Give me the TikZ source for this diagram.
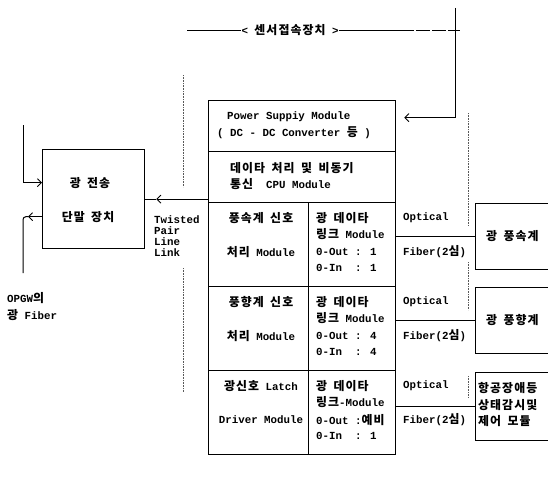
\documentclass[tikz,border=0pt]{standalone}
\usepackage{fontspec}
\setmainfont{Liberation Mono}
\newfontfamily\krfont{Noto Sans CJK KR}[LetterSpace=9]
\newcommand\K[1]{{\krfont\fontsize{11.9}{12}\selectfont #1}}
\usetikzlibrary{arrows.meta}
\begin{document}
\begin{tikzpicture}[x=1pt,y=-1pt,
  font=\fontsize{10.8}{12}\selectfont\bfseries,
  cell/.style={draw, line width=1.3pt, inner sep=0pt, anchor=north west},
  txt/.style={anchor=west, inner sep=0pt},
  ctxt/.style={anchor=center, inner sep=0pt},
  link/.style={line width=1pt},
  thinlink/.style={line width=0.8pt},
  guide/.style={densely dotted, line width=0.6pt, black!65},
  tip/.style={-{Straight Barb[length=4pt,width=8pt,line width=0.9pt]}}]
\useasboundingbox (0,0) rectangle (548,487);
\clip (0,0) rectangle (548,487);

% ---- module stack ----
\node[cell, minimum width=187pt, minimum height=51pt] (power) at (208,100) {};
\node[cell, minimum width=187pt, minimum height=51pt] (cpu)   at (208,151) {};
\node[cell, minimum width=100pt, minimum height=84pt] (r1l) at (208,202) {};
\node[cell, minimum width=87pt,  minimum height=84pt] (r1r) at (308,202) {};
\node[cell, minimum width=100pt, minimum height=84pt] (r2l) at (208,286) {};
\node[cell, minimum width=87pt,  minimum height=84pt] (r2r) at (308,286) {};
\node[cell, minimum width=100pt, minimum height=84pt] (r3l) at (208,370) {};
\node[cell, minimum width=87pt,  minimum height=84pt] (r3r) at (308,370) {};

% ---- right boxes ----
\node[cell, minimum width=100pt, minimum height=66pt] (f1) at (475,203) {};
\node[cell, minimum width=100pt, minimum height=66pt] (f2) at (475,287) {};
\node[cell, minimum width=100pt, minimum height=68pt] (f3) at (475,372) {};

% ---- terminal box ----
\node[cell, minimum width=102pt, minimum height=99pt] (term) at (42,149) {};

% ---- texts in module stack ----
\node[txt] (t1) at (227,117) {Power Suppiy Module};
\node[txt] (t2) at (217,133) {( DC - DC Converter \K{등} )};
\node[txt] (t3) at (230,168) {\K{데이타} \K{처리} \K{및} \K{비동기}};
\node[txt] (t4) at (230,184) {\K{통신}~~CPU Module};

\node[ctxt] (a1) at (261,218) {\K{풍속계} \K{신호}};
\node[ctxt] (a2) at (261,252) {\K{처리} Module};
\node[ctxt] (b1) at (261,302) {\K{풍향계} \K{신호}};
\node[ctxt] (b2) at (261,336) {\K{처리} Module};
\node[ctxt] (c1) at (261,386) {\K{광신호} Latch};
\node[ctxt] (c2) at (261,420) {Driver Module};

\node[txt] (a3) at (316,218) {\K{광} \K{데이타}};
\node[txt] (a4) at (316,234) {\K{링크} Module};
\node[txt] (a5) at (316,252) {0-Out : 1};
\node[txt] (a6) at (316,268) {0-In~~: 1};
\node[txt] (b3) at (316,302) {\K{광} \K{데이타}};
\node[txt] (b4) at (316,318) {\K{링크} Module};
\node[txt] (b5) at (316,336) {0-Out : 4};
\node[txt] (b6) at (316,352) {0-In~~: 4};
\node[txt] (c3) at (316,386) {\K{광} \K{데이타}};
\node[txt] (c4) at (316,402) {\K{링크}-Module};
\node[txt] (c5) at (316,420) {0-Out :\K{예비}};
\node[txt] (c6) at (316,436) {0-In~~: 1};

% ---- fiber labels ----
\node[txt] (o1) at (403,218) {Optical};
\node[txt] (g1) at (403,252) {Fiber(2\K{심})};
\node[txt] (o2) at (403,302) {Optical};
\node[txt] (g2) at (403,336) {Fiber(2\K{심})};
\node[txt] (o3) at (403,386) {Optical};
\node[txt] (g3) at (403,420) {Fiber(2\K{심})};

% ---- right box texts ----
\node[txt] (h1) at (486,236) {\K{광} \K{풍속계}};
\node[txt] (h2) at (486,320) {\K{광} \K{풍향계}};
\node[txt] (h3) at (478,388) {\K{항공장애등}};
\node[txt] (h4) at (478,405) {\K{상태감시및}};
\node[txt] (h5) at (478,421) {\K{제어} \K{모듈}};

% ---- terminal texts ----
\node[ctxt] (k1) at (90,183) {\K{광}~\K{전송}};
\node[ctxt] (k2) at (88,217) {\K{단말} \K{장치}};

\node[txt] (w1) at (154,220) {Twisted};
\node[txt] (w2) at (154,231) {Pair};
\node[txt] (w3) at (154,242) {Line};
\node[txt] (w4) at (154,253) {Link};

\node[txt] (op1) at (7,298) {OPGW\K{의}};
\node[txt] (op2) at (7,315) {\K{광} Fiber};

% ---- title ----
\node[ctxt] (title) at (290,30) {< \K{센서접속장치} >};
\coordinate (tl) at (187,30);
\coordinate (tr) at (460,30);
\coordinate (ptop) at (455,8);
\draw[thinlink] (tl) -- (title.west);
\draw[thinlink] (title.east) -- (400,30);
\draw[thinlink, dash pattern=on 14pt off 2pt] (400,30) -- (tr);
\draw[thinlink, tip] (ptop) |- ([xshift=8pt,yshift=8.5pt]power.east);

% ---- fiber connectors ----
\draw[link] (r1r.east |- f1.west) -- (f1.west);
\draw[link] (r2r.east |- f2.west) -- (f2.west);
\draw[link] (r3r.east |- f3.west) -- (f3.west);

% ---- twisted pair link ----
\draw[link, tip] (term.east -| r1l.west) -- ([xshift=11pt]term.east);
\draw[link] ([xshift=11pt]term.east) -- (term.east);

% ---- OPGW connections ----
\coordinate (in1) at (23,125);
\coordinate (out1) at (23,273);
\draw[link, tip] (in1) |- ([yshift=16.5pt]term.west);
\draw[link, tip] ([yshift=-17.5pt]term.west) -- ++(-14,0);
\draw[link, rounded corners=3pt] ([yshift=-17.5pt]term.west) ++(-14,0) -| (out1);

% ---- dotted guides ----
\draw[guide] (183,75) -- (183,187);
\draw[guide] (183,268) -- (183,392);
\draw[guide] (468,113) -- (468,226);
\draw[guide] (468,262) -- (468,310);
\draw[guide] (468,376) -- (468,398);
\end{tikzpicture}
\end{document}
